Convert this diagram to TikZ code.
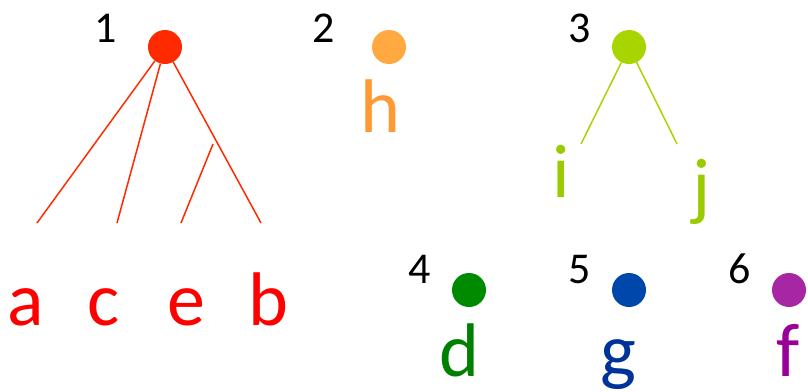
\documentclass[tikz,border=0pt]{standalone}
\usepackage{fontspec}
\setmainfont{Carlito}
\definecolor{cred}{HTML}{FF2A00}
\definecolor{tred}{HTML}{FF0000}
\definecolor{corange}{HTML}{FFA940}
\definecolor{torange}{HTML}{FF9933}
\definecolor{clime}{HTML}{A8D400}
\definecolor{tlime}{HTML}{99CC00}
\definecolor{cgreen}{HTML}{008A00}
\definecolor{tgreen}{HTML}{008000}
\definecolor{cblue}{HTML}{0047AB}
\definecolor{tblue}{HTML}{003399}
\definecolor{cpurple}{HTML}{A626A4}
\definecolor{tpurple}{HTML}{990099}
\begin{document}
\begin{tikzpicture}[x=1pt,y=-1pt,
  dot/.style={circle,minimum size=34pt,inner sep=0pt,fill=#1},
  num/.style={anchor=base,inner sep=0pt,font=\fontsize{44}{44}\selectfont},
  let/.style={anchor=base,inner sep=0pt,text=#1,font=\fontsize{76}{76}\selectfont},
  edge/.style={draw=#1,line width=1.5pt}]
\useasboundingbox (0,0) rectangle (808,391);
% tree 1
\node[dot=cred] (n1) at (165,47) {};
\node[num] (l1) at (106,42) {1};
\coordinate (ea) at (37,223);
\coordinate (ec) at (117,223);
\coordinate (ee) at (181,223);
\coordinate (eeTop) at (213,144);
\coordinate (eb) at (261,223);
\draw[edge=cred] (n1) -- (ea);
\draw[edge=cred] (n1) -- (ec);
\draw[edge=cred] (n1) -- (eb);
\draw[edge=cred] (eeTop) -- (ee);
\node[let=tred] (ta) at (26,325) {a};
\node[let=tred] (tc) at (104,325) {c};
\node[let=tred] (te) at (186,325) {e};
\node[let=tred] (tb) at (268,325) {b};
% 2
\node[dot=corange] (n2) at (389,47) {};
\node[num] (l2) at (324,42) {2};
\node[let=torange] (th) at (380,132) {h};
% 3
\node[dot=clime] (n3) at (629,47) {};
\node[num] (l3) at (580,42) {3};
\coordinate (ei) at (581,144);
\coordinate (ej) at (677,144);
\draw[edge=clime] (n3) -- (ei);
\draw[edge=clime] (n3) -- (ej);
\node[let=tlime] (ti) at (561,197) {i};
\node[let=tlime] (tj) at (702,211) {j};
% 4
\node[dot=cgreen] (n4) at (469,290) {};
\node[num] (l4) at (420,283) {4};
\node[let=tgreen] (td) at (459,376) {d};
% 5
\node[dot=cblue] (n5) at (629,290) {};
\node[num] (l5) at (580,283) {5};
\node[let=tblue] (tg) at (618,376) {g};
% 6
\node[dot=cpurple] (n6) at (789,290) {};
\node[num] (l6) at (740,283) {6};
\node[let=tpurple] (tf) at (788,376) {f};
\end{tikzpicture}
\end{document}
